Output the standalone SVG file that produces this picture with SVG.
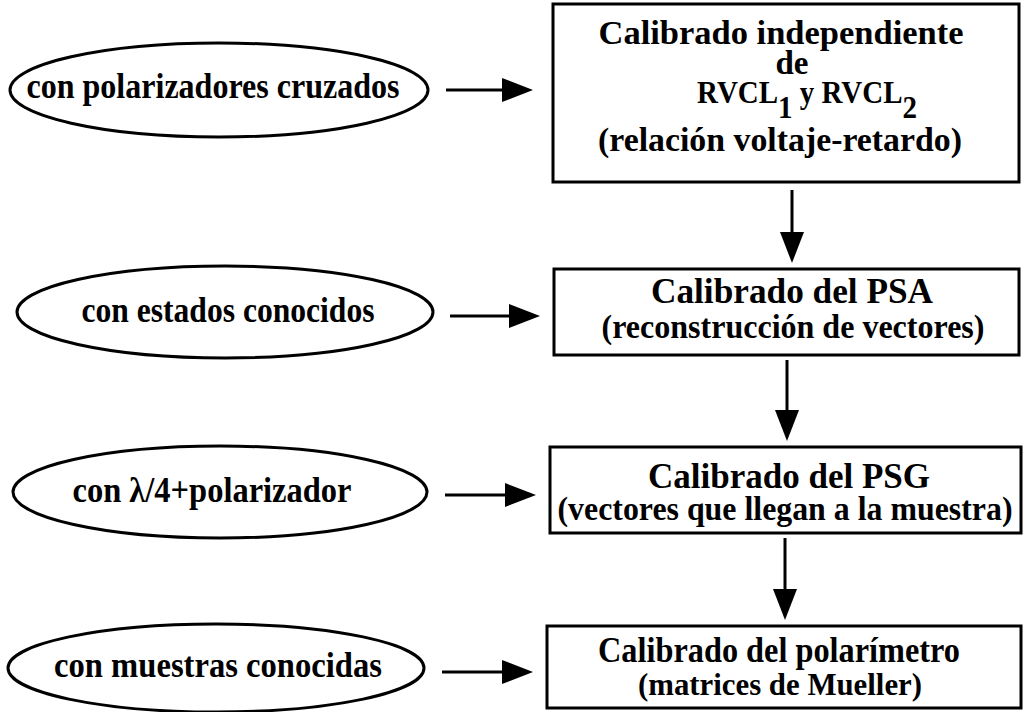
<svg xmlns="http://www.w3.org/2000/svg" width="1025" height="712" viewBox="0 0 1025 712">
<style>
.n ellipse, .n rect {fill:#fff; stroke:#000; stroke-width:3}
text {font-family:"Liberation Serif","Times New Roman",serif; font-weight:bold; fill:#000}
.e {font-size:35px; text-anchor:middle}
.b {font-size:33px; text-anchor:middle}
.t {font-size:35px}
.c line {stroke:#000; stroke-width:3; marker-end:url(#ah)}
</style>
<defs>
<marker id="ah" markerUnits="userSpaceOnUse" markerWidth="32" markerHeight="24" refX="0" refY="12" orient="auto" viewBox="0 0 32 24"><path d="M0,0 L31,12 L0,24 z" fill="#000"/></marker>
</defs>
<rect width="1025" height="712" fill="#fff"/>
<g id="connectors" class="c">
<line x1="446" y1="90" x2="502" y2="90"/>
<line x1="450" y1="316" x2="509" y2="316"/>
<line x1="445" y1="495" x2="505" y2="495"/>
<line x1="442" y1="672" x2="502" y2="672"/>
<line x1="792" y1="190" x2="792" y2="232"/>
<line x1="787" y1="360" x2="787" y2="410"/>
<line x1="785" y1="538" x2="785" y2="589"/>
</g>
<g id="e1" class="n"><ellipse cx="219" cy="90" rx="209" ry="47"/><text class="e" x="213" y="98" textLength="373" lengthAdjust="spacingAndGlyphs">con polarizadores cruzados</text></g>
<g id="e2" class="n"><ellipse cx="225" cy="312" rx="208" ry="46"/><text class="e" x="228" y="322" textLength="293" lengthAdjust="spacingAndGlyphs">con estados conocidos</text></g>
<g id="e3" class="n"><ellipse cx="220" cy="492" rx="207" ry="46"/><text class="e" x="212" y="502" textLength="279" lengthAdjust="spacingAndGlyphs">con λ/4+polarizador</text></g>
<g id="e4" class="n"><ellipse cx="216" cy="668" rx="208" ry="44"/><text class="e" x="218" y="677" textLength="328" lengthAdjust="spacingAndGlyphs">con muestras conocidas</text></g>
<g id="b1" class="n"><rect x="553" y="4" width="466" height="178"/>
<text class="b" x="781" y="44" textLength="365" lengthAdjust="spacingAndGlyphs">Calibrado independiente</text>
<text class="b" x="792" y="74">de</text>
<text style="font-size:32px" x="697" y="103" textLength="220" lengthAdjust="spacingAndGlyphs">RVCL<tspan dy="15">1</tspan><tspan dy="-15"> y RVCL</tspan><tspan dy="15">2</tspan></text>
<text class="b" x="780" y="151" textLength="364" lengthAdjust="spacingAndGlyphs">(relación voltaje-retardo)</text>
</g>
<g id="b2" class="n"><rect x="554" y="269" width="465" height="86"/>
<text class="b t" x="792" y="303" textLength="282" lengthAdjust="spacingAndGlyphs">Calibrado del PSA</text>
<text class="b" x="793" y="338" textLength="383" lengthAdjust="spacingAndGlyphs">(reconstrucción de vectores)</text>
</g>
<g id="b3" class="n"><rect x="550" y="447" width="471" height="86"/>
<text class="b t" x="789" y="488" textLength="282" lengthAdjust="spacingAndGlyphs">Calibrado del PSG</text>
<text class="b" x="785" y="520" textLength="455" lengthAdjust="spacingAndGlyphs">(vectores que llegan a la muestra)</text>
</g>
<g id="b4" class="n"><rect x="547" y="626" width="474" height="82"/>
<text class="b t" x="779" y="662" textLength="362" lengthAdjust="spacingAndGlyphs">Calibrado del polarímetro</text>
<text class="b" style="font-size:32px" x="780" y="695" textLength="284" lengthAdjust="spacingAndGlyphs">(matrices de Mueller)</text>
</g>
</svg>
